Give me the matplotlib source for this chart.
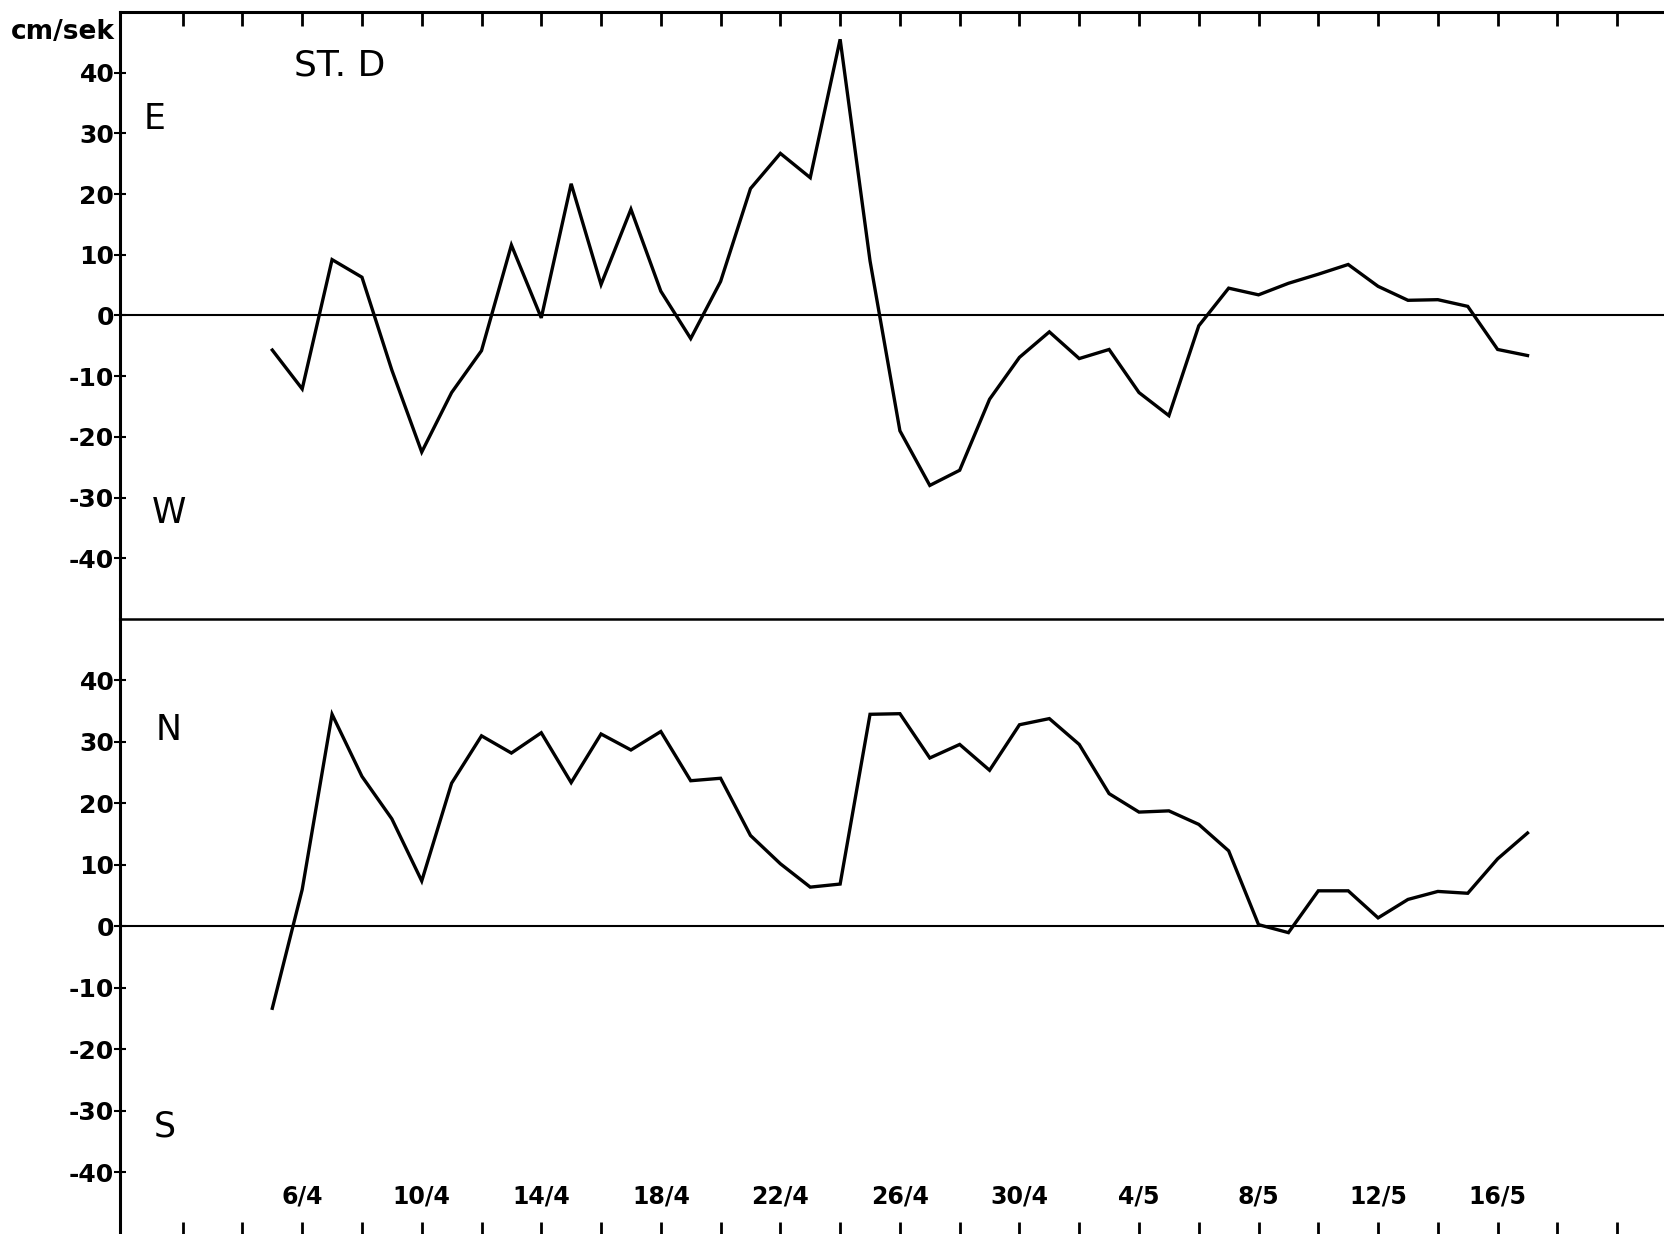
import matplotlib
matplotlib.use('Agg')
import matplotlib.pyplot as plt
import numpy as np

# daily current components, station D (day number counted from 1 April, 31 = 1 May)
days = np.arange(5, 48)
east_west = [-5.7, -12.1, 9.2, 6.3, -9.0, -22.5, -12.7, -5.8, 11.6, -0.4,
             21.7, 5.1, 17.5, 4.0, -3.8, 5.6, 20.9, 26.7, 22.7, 45.5,
             9.0, -19.0, -28.0, -25.5, -13.8, -6.9, -2.7, -7.1, -5.6, -12.7,
             -16.5, -1.7, 4.5, 3.4, 5.3, 6.8, 8.4, 4.8, 2.5, 2.6,
             1.5, -5.6, -6.6]
north_south = [-13.3, 6.0, 34.5, 24.4, 17.5, 7.4, 23.3, 31.0, 28.2, 31.5,
               23.4, 31.3, 28.7, 31.7, 23.7, 24.1, 14.8, 10.2, 6.4, 6.9,
               34.5, 34.6, 27.4, 29.6, 25.4, 32.8, 33.8, 29.6, 21.6, 18.6,
               18.8, 16.6, 12.3, 0.3, -1.0, 5.8, 5.8, 1.4, 4.4, 5.7,
               5.4, 11.0, 15.2]

tick_days = np.arange(2, 51, 2)
label_days = [6, 10, 14, 18, 22, 26, 30, 34, 38, 42, 46]
date_labels = ['6/4', '10/4', '14/4', '18/4', '22/4', '26/4', '30/4',
               '4/5', '8/5', '12/5', '16/5']
y_ticks = [-40, -30, -20, -10, 0, 10, 20, 30, 40]

plt.rcParams['axes.unicode_minus'] = False
plt.rcParams['font.family'] = ['DejaVu Sans']

fig = plt.figure(figsize=(16.65, 12.34), dpi=100)
ax1 = fig.add_axes([0.072, 0.4984, 0.928, 0.4919])
ax2 = fig.add_axes([0.072, 0.0, 0.928, 0.4984])

for ax, vals in ((ax1, east_west), (ax2, north_south)):
	ax.patch.set_visible(False)  # keep the shared divider line from being painted over
	ax.plot(days, vals, color='black', lw=2.4, solid_joinstyle='miter')
	ax.axhline(0, color='black', lw=1.5)
	ax.set_xlim(-0.1, 51.6)
	ax.set_ylim(-50, 50)
	ax.spines['right'].set_visible(False)
	ax.spines['left'].set_linewidth(2.2)
	ax.set_yticks(y_ticks)
	ax.tick_params(axis='y', direction='inout', length=8, width=1.5, labelsize=18, pad=0)
	for t in ax.get_yticklabels():
		t.set_fontweight('bold')

# top panel: ticks along the upper frame
ax1.spines['top'].set_linewidth(2.2)
ax1.spines['bottom'].set_linewidth(1.8)
ax1.xaxis.tick_top()
ax1.set_xticks(tick_days)
ax1.tick_params(axis='x', direction='in', length=10, width=2, labeltop=False)

# bottom panel: ticks along the lower frame, dates written inside
ax2.spines['top'].set_visible(False)
ax2.spines['bottom'].set_visible(False)
labs = [date_labels[label_days.index(d)] if d in label_days else '' for d in tick_days]
ax2.set_xticks(tick_days)
ax2.set_xticklabels(labs, fontweight='bold')
ax2.tick_params(axis='x', direction='in', length=9, width=2, labelsize=17, pad=-36)

ax1.text(0.113, 0.911, 'ST. D', transform=ax1.transAxes, fontsize=26, va='center', ha='left')
ax1.text(0.0155, 0.823, 'E', transform=ax1.transAxes, fontsize=25, va='center', ha='left')
ax1.text(0.0207, 0.174, 'W', transform=ax1.transAxes, fontsize=25, va='center', ha='left')
ax2.text(0.023, 0.82, 'N', transform=ax2.transAxes, fontsize=25, va='center', ha='left')
ax2.text(0.022, 0.174, 'S', transform=ax2.transAxes, fontsize=25, va='center', ha='left')

fig.text(0.0066, 0.974, 'cm/sek', fontsize=19, fontweight='bold', va='center', ha='left')

plt.savefig('out.png', dpi=100)
